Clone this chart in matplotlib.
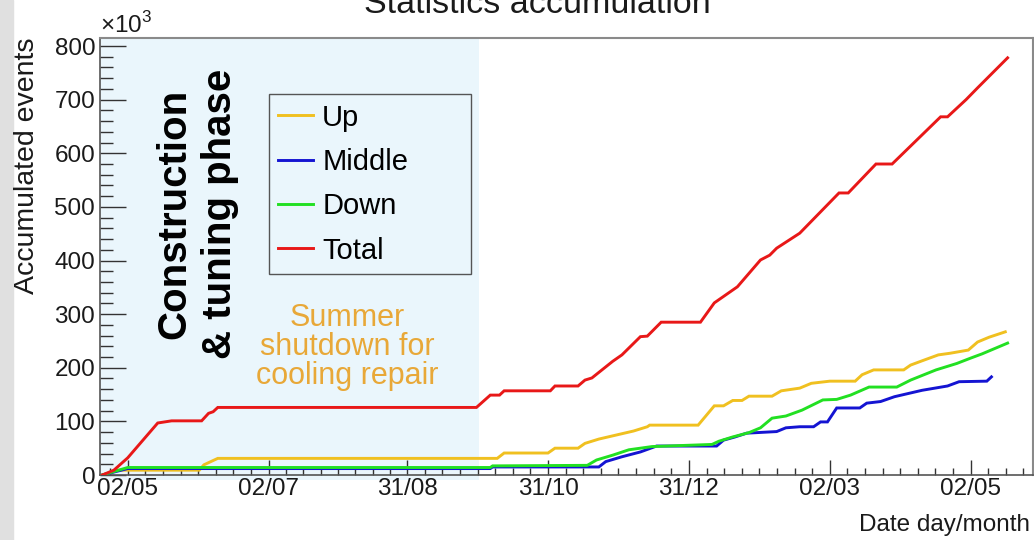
import matplotlib
matplotlib.use("Agg")
import matplotlib.pyplot as plt
import matplotlib.dates as mdates
import matplotlib.transforms as mtransforms
from matplotlib.patches import Rectangle
import numpy as np
import pandas as pd

plt.rcParams['font.family'] = ['Liberation Sans', 'DejaVu Sans']
plt.rcParams['mathtext.fontset'] = 'custom'
plt.rcParams['mathtext.rm'] = 'Liberation Sans'

# ---- data (thousands of events) ----
up_dates = ["2022-04-21", "2022-04-28", "2022-06-02", "2022-06-04", "2022-06-10",
            "2022-10-09", "2022-10-12", "2022-10-31", "2022-11-03", "2022-11-13",
            "2022-11-16", "2022-11-22", "2022-11-30", "2022-12-07", "2022-12-13",
            "2022-12-14", "2023-01-04", "2023-01-11", "2023-01-15", "2023-01-19",
            "2023-01-23", "2023-01-26", "2023-02-05", "2023-02-09", "2023-02-17",
            "2023-02-22", "2023-03-02", "2023-03-13", "2023-03-16", "2023-03-21",
            "2023-04-03", "2023-04-06", "2023-04-11", "2023-04-18", "2023-04-23",
            "2023-05-01", "2023-05-05", "2023-05-10", "2023-05-17"]
up_values = [0, 9, 9, 19, 31,
             31, 41, 41, 50, 50,
             59, 67, 75, 82, 90,
             93, 93, 129, 129, 139,
             139, 147, 147, 157, 162,
             171, 175, 175, 187, 196,
             196, 205, 213, 224, 227,
             233, 248, 257, 267]

middle_dates = ["2022-04-21", "2022-05-02", "2022-10-06", "2022-10-07", "2022-11-22",
                "2022-11-25", "2022-12-02", "2022-12-10", "2022-12-17", "2023-01-12",
                "2023-01-15", "2023-01-20", "2023-01-25", "2023-02-07", "2023-02-11",
                "2023-02-17", "2023-02-23", "2023-02-26", "2023-03-01", "2023-03-05",
                "2023-03-15", "2023-03-18", "2023-03-24", "2023-03-30", "2023-04-06",
                "2023-04-11", "2023-04-22", "2023-04-27", "2023-05-09", "2023-05-11"]
middle_values = [0, 12, 12, 15, 15,
                 25, 34, 43, 54, 54,
                 65, 71, 78, 81, 88,
                 90, 90, 99, 99, 125,
                 125, 134, 137, 146, 153,
                 158, 166, 174, 175, 183]

down_dates = ["2022-04-21", "2022-05-02", "2022-10-06", "2022-10-07", "2022-11-17",
              "2022-11-21", "2022-11-28", "2022-12-05", "2022-12-15", "2023-01-10",
              "2023-01-13", "2023-01-19", "2023-01-26", "2023-01-31", "2023-02-05",
              "2023-02-11", "2023-02-18", "2023-02-27", "2023-03-05", "2023-03-11",
              "2023-03-19", "2023-03-31", "2023-04-06", "2023-04-17", "2023-04-26",
              "2023-05-02", "2023-05-07", "2023-05-18"]
down_values = [0, 14, 14, 17, 18,
               28, 37, 47, 53, 57,
               63, 71, 79, 88, 106,
               110, 121, 140, 141, 149,
               164, 164, 177, 196, 208,
               218, 226, 246]

total_dates = ["2022-04-21", "2022-04-26", "2022-05-02", "2022-05-15", "2022-05-21",
               "2022-06-03", "2022-06-06", "2022-06-08", "2022-06-10", "2022-09-30",
               "2022-10-06", "2022-10-10", "2022-10-12", "2022-11-01", "2022-11-03",
               "2022-11-13", "2022-11-16", "2022-11-19", "2022-11-28", "2022-12-02",
               "2022-12-10", "2022-12-13", "2022-12-19", "2023-01-05", "2023-01-11",
               "2023-01-21", "2023-01-31", "2023-02-04", "2023-02-07", "2023-02-17",
               "2023-03-06", "2023-03-10", "2023-03-22", "2023-03-29", "2023-04-19",
               "2023-04-22", "2023-04-30", "2023-05-05", "2023-05-18"]
total_values = [0, 9, 32, 97, 101,
                101, 115, 118, 126, 126,
                149, 149, 157, 157, 166,
                166, 177, 181, 212, 224,
                258, 259, 285, 285, 321,
                351, 401, 410, 423, 451,
                526, 526, 580, 580, 668,
                668, 700, 722, 778]

series_names = ["Up", "Middle", "Down", "Total"]
series_colors = ["#f0c020", "#1414d2", "#22e022", "#e81818"]

tick_dates = ["2022-05-02", "2022-07-02", "2022-08-31", "2022-10-31",
              "2022-12-31", "2023-03-02", "2023-05-02"]
tick_labels = ["02/05", "02/07", "31/08", "31/10", "31/12", "02/03", "02/05"]

x_start, x_end = "2022-04-20", "2023-05-29"
phase_end = "2022-10-01"

# ---- figure ----
W, H = 1034, 540
fig = plt.figure(figsize=(W / 100, H / 100), dpi=100)
fig.patches.append(Rectangle((0, 0), 13 / W, 1, transform=fig.transFigure,
                             color="#e0e0e0", zorder=0))

ax = fig.add_axes([100 / W, 65 / H, 933 / W, 437 / H])
ax.set_facecolor("white")

x0, x1 = pd.Timestamp(x_start), pd.Timestamp(x_end)
ax.set_xlim(x0, x1)
ax.set_ylim(0, 815)

# construction / tuning period shading
blend = mtransforms.blended_transform_factory(ax.transData, ax.transAxes)
ax.add_patch(Rectangle((mdates.date2num(x0), -5 / 437),
                       mdates.date2num(pd.Timestamp(phase_end)) - mdates.date2num(x0),
                       1 + 5 / 437, transform=blend, facecolor="#eaf6fc",
                       edgecolor="none", zorder=0, clip_on=False))

all_series = [(up_dates, up_values), (middle_dates, middle_values),
              (down_dates, down_values), (total_dates, total_values)]
for (d, v), name, col in zip(all_series, series_names, series_colors):
    ax.plot(pd.to_datetime(d), v, color=col, lw=2.1, label=name, zorder=3,
            solid_joinstyle="miter")

# axis ticks
major = pd.to_datetime(tick_dates)
ax.set_xticks(major)
ax.set_xticklabels(tick_labels)
mnum = mdates.date2num(major)
step = np.diff(mnum).mean() / 8
minor = []
for a, b in zip(mnum[:-1], mnum[1:]):
    minor.extend(np.linspace(a, b, 9)[1:-1])
k = 1
while mnum[0] - k * step > mdates.date2num(x0):
    minor.append(mnum[0] - k * step); k += 1
k = 1
while mnum[-1] + k * step < mdates.date2num(x1):
    minor.append(mnum[-1] + k * step); k += 1
ax.set_xticks(minor, minor=True)

ax.set_yticks(np.arange(0, 801, 100))
ax.set_yticks(np.arange(0, 815, 20), minor=True)

ax.tick_params(axis="both", which="both", direction="in", colors="#333333",
               labelcolor="#1a1a1a", labelsize=17.5, width=1.0)
ax.tick_params(axis="y", which="major", length=19, pad=3.5)
ax.tick_params(axis="y", which="minor", length=9.5)
ax.tick_params(axis="x", which="major", length=11, pad=2.5)
ax.tick_params(axis="x", which="minor", length=5)
ax.tick_params(top=False, right=False)

for s in ["top", "right"]:
    ax.spines[s].set_color("#8a8a8a")
    ax.spines[s].set_linewidth(1.5)
for s in ["left", "bottom"]:
    ax.spines[s].set_color("#555555")
    ax.spines[s].set_linewidth(1.2)

# legend
leg = ax.legend(loc="upper left", bbox_to_anchor=(0.181, 0.462, 0.217, 0.41),
                mode="expand", borderaxespad=0, fontsize=21, handlelength=1.2,
                handletextpad=0.3, labelspacing=0.56, borderpad=0.33,
                fancybox=False, framealpha=1, facecolor="none", edgecolor="#555555")
leg.get_frame().set_linewidth(1.0)
for ln in leg.get_lines():
    ln.set_linewidth(2.1)

# texts
fig.text(537 / W, 1 - 13 / H, "Statistics accumulation", ha="center", va="baseline",
         fontsize=24.5, color="#1a1a1a")
fig.text(100 / W, 1 - 33 / H, r"$\times10^{3}$", ha="left", va="baseline",
         fontsize=17.5, color="#1a1a1a")
fig.text(27 / W, 1 - 38 / H, "Accumulated events", rotation=90, ha="center",
         va="top", fontsize=20.5, color="#1a1a1a")
fig.text(1030 / W, 1 - 525 / H, "Date day/month", ha="right", va="center",
         fontsize=17.5, color="#1a1a1a")
fig.text(197 / W, 1 - 214 / H, "Construction\n& tuning phase", rotation=90,
         ha="center", va="center", multialignment="center", fontsize=29,
         fontweight="bold", color="black", linespacing=1.25)
fig.text(347 / W, 1 - 347 / H, "Summer\nshutdown for\ncooling repair",
         ha="center", va="center", multialignment="center", fontsize=22,
         color="#e8a838", linespacing=0.97)

fig.savefig("out.png", dpi=100)
